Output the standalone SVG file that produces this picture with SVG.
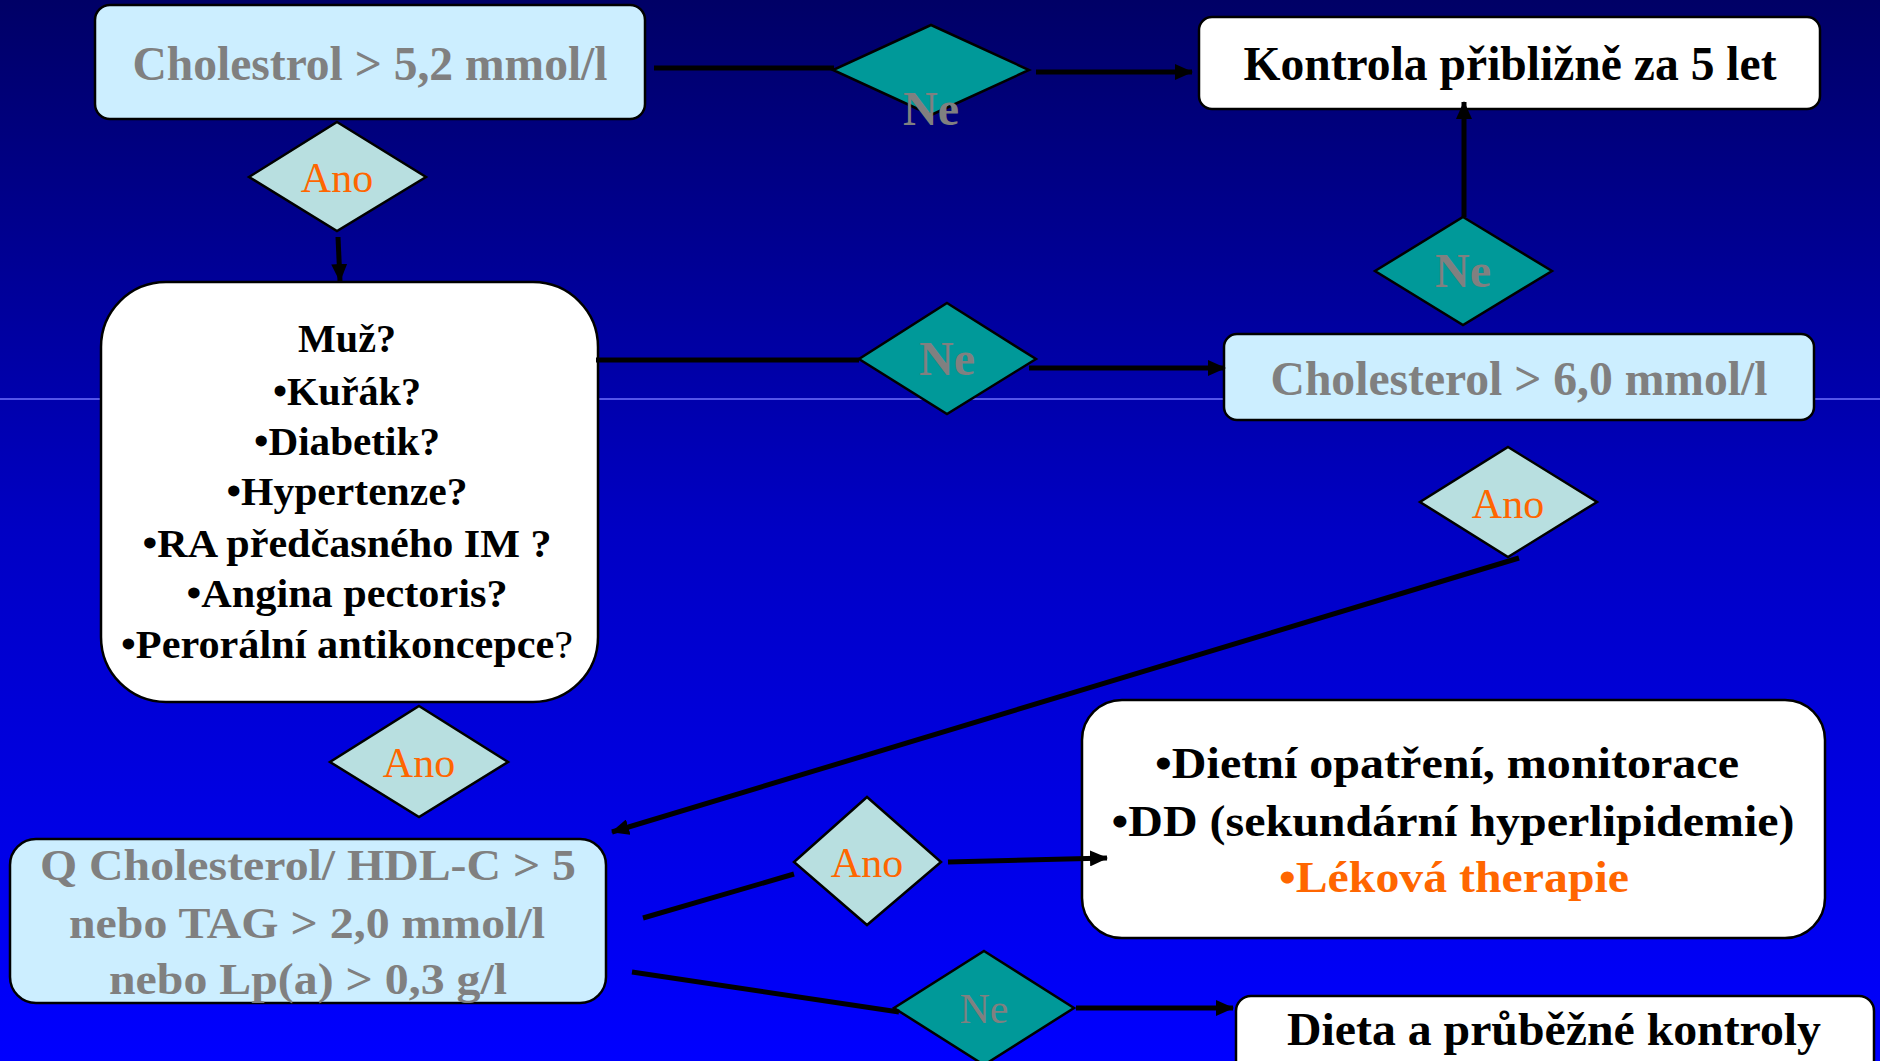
<svg xmlns="http://www.w3.org/2000/svg" width="1880" height="1061" viewBox="0 0 1880 1061">
  <defs>
    <linearGradient id="bg" x1="0" y1="0" x2="0" y2="1">
      <stop offset="0" stop-color="#000066"/>
      <stop offset="0.5" stop-color="#0000c4"/>
      <stop offset="1" stop-color="#0000ff"/>
    </linearGradient>
    <marker id="arrow" markerUnits="userSpaceOnUse" markerWidth="18" markerHeight="16" refX="17" refY="8" orient="auto">
      <path d="M0,0 L18,8 L0,16 z" fill="#000"/>
    </marker>
    <style>
      .box { fill: #cceeff; stroke: #000; stroke-width: 2.5; }
      .wbox { fill: #ffffff; stroke: #000; stroke-width: 2.5; }
      .yes { fill: #b8dfe0; stroke: #000; stroke-width: 2.5; }
      .no { fill: #009999; stroke: #000; stroke-width: 2.5; }
      .t { font-family: "Liberation Serif", "Times New Roman", serif; text-anchor: middle; }
      .b { font-weight: bold; }
      .gray { fill: #808080; }
      .black { fill: #000; }
      .orange { fill: #ff6600; }
      .conn { stroke: #000; stroke-width: 5; fill: none; }
    </style>
  </defs>

  <!-- slide background with its thin divider line -->
  <rect x="0" y="0" width="1880" height="1061" fill="url(#bg)"/>
  <line x1="0" y1="399" x2="1880" y2="399" stroke="#7070ff" stroke-width="1.5"/>

  <g id="chol52">
    <rect class="box" x="95" y="5" width="550" height="114" rx="15"/>
    <text class="t b gray" x="370" y="80" font-size="48" textLength="475" lengthAdjust="spacingAndGlyphs">Cholestrol &gt; 5,2 mmol/l</text>
  </g>

  <g id="ne-top">
    <polygon class="no" points="931,25 1029,70 931,115 833,70"/>
    <text class="t b gray" x="931" y="125" font-size="48">Ne</text>
  </g>

  <g id="kontrola">
    <rect class="wbox" x="1199" y="17" width="621" height="92" rx="13"/>
    <text class="t b black" x="1510" y="80" font-size="48" textLength="533" lengthAdjust="spacingAndGlyphs">Kontrola přibližně za 5 let</text>
  </g>

  <g id="ano-1">
    <polygon class="yes" points="337,122 426,177 337,231 249,177"/>
    <text class="t orange" x="337" y="192" font-size="42">Ano</text>
  </g>

  <g id="riziko">
    <rect class="wbox" x="101" y="282" width="497" height="420" rx="65"/>
    <text class="t b black" x="347" y="352" font-size="41" textLength="98" lengthAdjust="spacingAndGlyphs">Muž?</text>
    <text class="t b black" x="347" y="405" font-size="41" textLength="148" lengthAdjust="spacingAndGlyphs">•Kuřák?</text>
    <text class="t b black" x="347" y="455" font-size="41" textLength="186" lengthAdjust="spacingAndGlyphs">•Diabetik?</text>
    <text class="t b black" x="347" y="505" font-size="41" textLength="241" lengthAdjust="spacingAndGlyphs">•Hypertenze?</text>
    <text class="t b black" x="347" y="557" font-size="41" textLength="409" lengthAdjust="spacingAndGlyphs">•RA předčasného IM ?</text>
    <text class="t b black" x="347" y="607" font-size="41" textLength="321" lengthAdjust="spacingAndGlyphs">•Angina pectoris?</text>
    <text class="t b black" x="347" y="658" font-size="41" textLength="452" lengthAdjust="spacingAndGlyphs">•Perorální antikoncepce<tspan font-weight="normal">?</tspan></text>
  </g>

  <g id="ne-mid">
    <polygon class="no" points="947,303 1036,359 947,414 859,359"/>
    <text class="t b gray" x="947" y="375" font-size="48">Ne</text>
  </g>

  <g id="ne-right">
    <polygon class="no" points="1463,217 1552,271 1463,325 1375,271"/>
    <text class="t b gray" x="1463" y="287" font-size="48">Ne</text>
  </g>

  <g id="chol60">
    <rect class="box" x="1224" y="334" width="590" height="86" rx="13"/>
    <text class="t b gray" x="1519" y="395" font-size="48" textLength="497" lengthAdjust="spacingAndGlyphs">Cholesterol &gt; 6,0 mmol/l</text>
  </g>

  <g id="ano-right">
    <polygon class="yes" points="1508,447 1597,502 1508,557 1420,502"/>
    <text class="t orange" x="1508" y="518" font-size="42">Ano</text>
  </g>

  <g id="ano-2">
    <polygon class="yes" points="419,706 508,762 419,817 330,762"/>
    <text class="t orange" x="419" y="777" font-size="42">Ano</text>
  </g>

  <g id="pomer">
    <rect class="box" x="10" y="839" width="596" height="164" rx="26"/>
    <text class="t b gray" x="308" y="880" font-size="45" textLength="536" lengthAdjust="spacingAndGlyphs">Q Cholesterol/ HDL-C &gt; 5</text>
    <text class="t b gray" x="307" y="938" font-size="45" textLength="476" lengthAdjust="spacingAndGlyphs">nebo TAG &gt; 2,0 mmol/l</text>
    <text class="t b gray" x="308" y="994" font-size="45" textLength="398" lengthAdjust="spacingAndGlyphs">nebo Lp(a) &gt; 0,3 g/l</text>
  </g>

  <g id="ano-low">
    <polygon class="yes" points="867,797 941,862 867,925 794,862"/>
    <text class="t orange" x="867" y="877" font-size="42">Ano</text>
  </g>

  <g id="lecba">
    <rect class="wbox" x="1082" y="700" width="743" height="238" rx="40"/>
    <text class="t b black" x="1447" y="778" font-size="44" textLength="584" lengthAdjust="spacingAndGlyphs">•Dietní opatření, monitorace</text>
    <text class="t b black" x="1453" y="836" font-size="44" textLength="683" lengthAdjust="spacingAndGlyphs">•DD (sekundární hyperlipidemie)</text>
    <text class="t b orange" x="1454" y="892" font-size="44" textLength="350" lengthAdjust="spacingAndGlyphs">•Léková therapie</text>
  </g>

  <g id="ne-low">
    <polygon class="no" points="984,951 1074,1008 984,1065 894,1008" stroke-width="6"/>
    <text class="t gray" x="984" y="1023" font-size="42">Ne</text>
  </g>

  <g id="dieta">
    <rect class="wbox" x="1236" y="996" width="638" height="90" rx="15"/>
    <text class="t b black" x="1554" y="1045" font-size="46" textLength="534" lengthAdjust="spacingAndGlyphs">Dieta a průběžné kontroly</text>
  </g>

  <!-- connectors drawn last so arrow tips sit on top of the boxes -->
  <g id="connectors">
    <line class="conn" x1="654" y1="68" x2="834" y2="68"/>
    <line class="conn" x1="1036" y1="72" x2="1192" y2="72" marker-end="url(#arrow)"/>
    <line class="conn" x1="338" y1="237" x2="340" y2="281" marker-end="url(#arrow)"/>
    <line class="conn" x1="596" y1="360" x2="859" y2="360"/>
    <line class="conn" x1="1029" y1="368" x2="1225" y2="368" marker-end="url(#arrow)"/>
    <line class="conn" x1="1464" y1="217" x2="1464" y2="102" marker-end="url(#arrow)"/>
    <line class="conn" x1="1519" y1="558" x2="612" y2="832" marker-end="url(#arrow)"/>
    <line class="conn" x1="643" y1="918" x2="794" y2="874"/>
    <line class="conn" x1="948" y1="862" x2="1107" y2="858" marker-end="url(#arrow)"/>
    <line class="conn" x1="632" y1="972" x2="899" y2="1012"/>
    <line class="conn" x1="1076" y1="1008" x2="1233" y2="1008" marker-end="url(#arrow)"/>
  </g>
</svg>
